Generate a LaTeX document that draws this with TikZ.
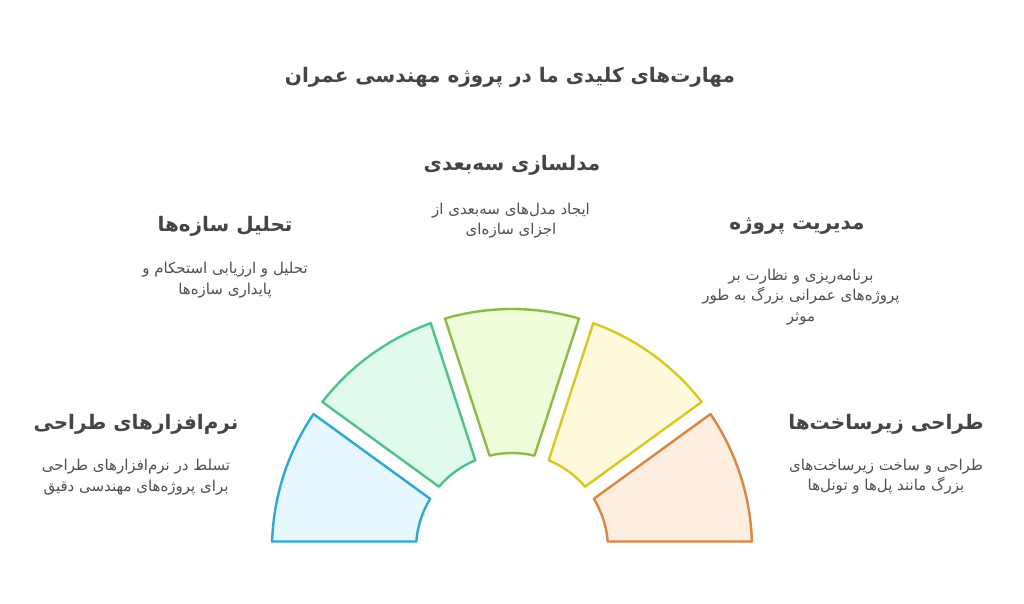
\documentclass[tikz,border=0pt]{standalone}
\usepackage{fontspec}
\usetikzlibrary{calc}
\TeXXeTstate=1
\newfontfamily\arabicfont[Script=Arabic]{DejaVu Sans}
\newcommand\fa[1]{{\arabicfont\beginR #1\endR}}
\definecolor{txt}{HTML}{454545}
\definecolor{dtxt}{HTML}{4F4F4F}
\definecolor{sBlue}{HTML}{2BA8D4}\definecolor{fBlue}{HTML}{E6F7FD}
\definecolor{sGreen}{HTML}{4DC38A}\definecolor{fGreen}{HTML}{E0FBEC}
\definecolor{sLime}{HTML}{8CBB45}\definecolor{fLime}{HTML}{F0FDDB}
\definecolor{sYellow}{HTML}{D8C823}\definecolor{fYellow}{HTML}{FEFADB}
\definecolor{sOrange}{HTML}{DC8540}\definecolor{fOrange}{HTML}{FDEEE0}
\tikzset{
  seg/.style={line width=2.4pt, line join=round},
  maintitle/.style={font=\fontsize{20}{24}\selectfont\bfseries, text=txt, inner sep=0pt},
  heading/.style={font=\fontsize{20}{24}\selectfont\bfseries, text=txt, inner sep=0pt},
  desc/.style={font=\fontsize{15}{20.5}\selectfont, text=dtxt, align=center, inner sep=0pt},
}
\begin{document}
\begin{tikzpicture}[x=1pt,y=1pt]
\useasboundingbox (0,0) rectangle (1024,604);
\fill[white] (0,0) rectangle (1024,604);
\coordinate (C) at (512,55);
\foreach \a/\b/\s/\f in {144/180/sBlue/fBlue,108/144/sGreen/fGreen,72/108/sLime/fLime,36/72/sYellow/fYellow,0/36/sOrange/fOrange}{
  \draw[seg, draw=\s, fill=\f]
    ($(C)+({\a+1.791}:240pt)$) arc[start angle={\a+1.791}, end angle={\b-1.791}, radius=240pt]
    -- ($(C)+({\b-4.481}:96pt)$) arc[start angle={\b-4.481}, end angle={\a+4.481}, radius=96pt]
    -- cycle;
}
\node[maintitle] (title) at (510,527) {\fa{مهارت‌های کلیدی ما در پروژه مهندسی عمران}};

\node[heading] (h3) at (512,439) {\fa{مدلسازی سه‌بعدی}};
\node[desc] (d3) at (511,383.5) {\fa{ایجاد مدل‌های سه‌بعدی از}\\\fa{اجزای سازه‌ای}};

\node[heading] (h2) at (225,378) {\fa{تحلیل سازه‌ها}};
\node[desc] (d2) at (225,324) {\fa{تحلیل و ارزیابی استحکام و}\\\fa{پایداری سازه‌ها}};

\node[heading] (h4) at (797,378) {\fa{مدیریت پروژه}};
\node[desc] (d4) at (801,307) {\fa{برنامه‌ریزی و نظارت بر}\\\fa{پروژه‌های عمرانی بزرگ به طور}\\\fa{موثر}};

\node[heading] (h1) at (136,180) {\fa{نرم‌افزارهای طراحی}};
\node[desc] (d1) at (136,127) {\fa{تسلط در نرم‌افزارهای طراحی}\\\fa{برای پروژه‌های مهندسی دقیق}};

\node[heading] (h5) at (886,180) {\fa{طراحی زیرساخت‌ها}};
\node[desc] (d5) at (886,127.5) {\fa{طراحی و ساخت زیرساخت‌های}\\\fa{بزرگ مانند پل‌ها و تونل‌ها}};
\end{tikzpicture}
\end{document}
